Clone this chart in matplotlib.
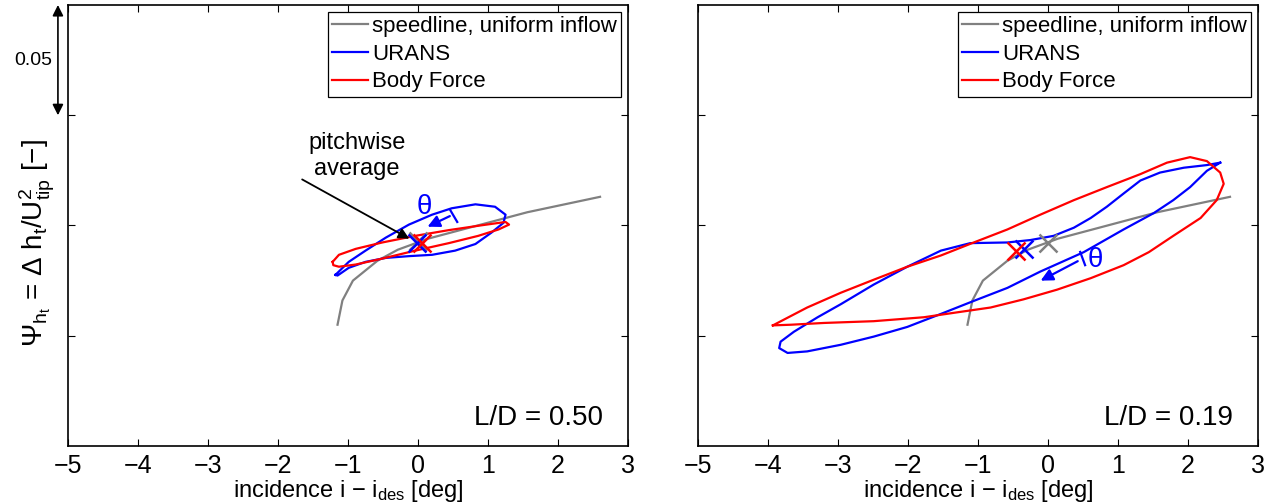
import matplotlib.pyplot as plt

# fonts: Arial-like text, upright mathtext
plt.rcParams['font.family'] = ['Liberation Sans', 'DejaVu Sans']
plt.rcParams['mathtext.default'] = 'regular'

# speedline at uniform inflow (same in both panels)
speed_i = [-1.15, -1.08, -0.93, -0.58, -0.29, 0.14, 0.85, 1.56, 2.60]
speed_psi = [0.305, 0.316, 0.325, 0.334, 0.339, 0.344, 0.350, 0.356, 0.363]

# L/D = 0.50
urans050_i = [-1.18, -0.99, -0.75, -0.46, -0.13, 0.20, 0.48, 0.82, 1.10, 1.25, 1.22,
              1.05, 0.82, 0.53, 0.20, -0.13, -0.46, -0.75, -0.99, -1.15, -1.18]
urans050_psi = [0.3276, 0.3335, 0.3386, 0.3445, 0.3504, 0.3549, 0.3578, 0.3596, 0.3585,
                0.3549, 0.3512, 0.3468, 0.3416, 0.3386, 0.3367, 0.3361, 0.3353, 0.3335,
                0.3308, 0.3273, 0.3276]
bf050_i = [-1.22, -1.13, -0.89, -0.51, -0.04, 0.44, 0.91, 1.25, 1.30, 1.15, 0.86, 0.44,
           -0.04, -0.51, -0.89, -1.13, -1.21, -1.22]
bf050_psi = [0.3335, 0.3367, 0.3394, 0.3423, 0.3453, 0.3479, 0.3501, 0.3516, 0.3504,
             0.3482, 0.3453, 0.3420, 0.3386, 0.3350, 0.3323, 0.3313, 0.3320, 0.3335]

# L/D = 0.19
urans019_i = [2.46, 2.27, 2.03, 1.79, 1.51, 1.08, 0.51, -0.11, -0.58, -1.06, -1.53, -2.01,
              -2.49, -2.96, -3.44, -3.72, -3.84, -3.82, -3.63, -3.29, -2.96, -2.49, -2.01,
              -1.53, -1.11, -0.58, -0.25, 0.08, 0.37, 0.61, 0.84, 1.08, 1.32, 1.60, 1.94,
              2.27, 2.46]
urans019_psi = [0.3785, 0.3748, 0.3674, 0.3615, 0.3556, 0.3482, 0.3379, 0.3291, 0.3217,
                0.3158, 0.3099, 0.3040, 0.2996, 0.2959, 0.2929, 0.2922, 0.2944, 0.2973,
                0.3018, 0.3084, 0.3143, 0.3232, 0.3313, 0.3386, 0.3420, 0.3423, 0.3434,
                0.3453, 0.3490, 0.3534, 0.3585, 0.3645, 0.3704, 0.3740, 0.3762, 0.3774,
                0.3785]
bf019_i = [-3.93, -3.44, -2.96, -2.49, -2.01, -1.53, -1.06, -0.58, -0.11, 0.37, 0.84, 1.32,
           1.70, 2.03, 2.27, 2.46, 2.51, 2.41, 2.18, 1.79, 1.44, 1.08, 0.61, 0.13, -0.35,
           -0.82, -1.30, -1.77, -2.49, -3.20, -3.67, -3.93]
bf019_psi = [0.3047, 0.3128, 0.3195, 0.3254, 0.3313, 0.3364, 0.3423, 0.3482, 0.3549,
             0.3615, 0.3674, 0.3733, 0.3785, 0.3810, 0.3792, 0.3740, 0.3689, 0.3615,
             0.3534, 0.3453, 0.3379, 0.3320, 0.3261, 0.3209, 0.3165, 0.3128, 0.3106,
             0.3084, 0.3066, 0.3058, 0.3050, 0.3047]

# pitchwise averages (i, psi)
avg_speed = [(0.0, 0.343), (0.0, 0.342)]
avg_urans = [(-0.02, 0.3422), (-0.34, 0.3393)]
avg_bf = [(0.05, 0.3420), (-0.46, 0.3384)]

ld_labels = ['L/D = 0.50', 'L/D = 0.19']

fig = plt.figure(figsize=(12.76, 5.04), dpi=100)
ax1 = fig.add_axes([0.0533, 0.1151, 0.4389, 0.875])
ax2 = fig.add_axes([0.5470, 0.1151, 0.4389, 0.875])

panels = [(ax1, urans050_i, urans050_psi, bf050_i, bf050_psi),
          (ax2, urans019_i, urans019_psi, bf019_i, bf019_psi)]

for k, (ax, ui, up, bi, bp) in enumerate(panels):
    ax.plot(speed_i, speed_psi, color='gray', lw=1.6, label='speedline, uniform inflow')
    ax.plot(ui, up, color='blue', lw=1.6, label='URANS')
    ax.plot(bi, bp, color='red', lw=1.6, label='Body Force')
    ax.plot(*avg_speed[k], marker='x', color='gray', ms=13, mew=1.8)
    ax.plot(*avg_urans[k], marker='x', color='blue', ms=13, mew=1.8)
    ax.plot(*avg_bf[k], marker='x', color='red', ms=13, mew=1.8)

    ax.set_xlim(-5, 3)
    ax.set_ylim(0.25, 0.45)
    ax.set_xticks(range(-5, 4))
    ax.set_xticklabels([str(v).replace('-', '\u2212') for v in range(-5, 4)])
    ax.set_yticks([0.30, 0.35, 0.40])
    ax.set_yticklabels([])
    ax.tick_params(direction='in', top=True, right=True, length=5, width=0.8,
                   labelsize=18, pad=6)
    for s in ax.spines.values():
        s.set_linewidth(1.2)
    ax.set_xlabel('incidence i \u2212 i$_{des}$ [deg]', fontsize=17, labelpad=0)

    leg = ax.legend(loc='upper right', fontsize=16, fancybox=False, edgecolor='k',
                    framealpha=1, handlelength=1.6, handletextpad=0.2,
                    labelspacing=0.3, borderpad=0.2, borderaxespad=0.3)
    leg.get_frame().set_linewidth(0.9)

    ax.text(0.955, 0.048, ld_labels[k], transform=ax.transAxes, ha='right',
            va='baseline', fontsize=20)

# theta markers (phase start and direction)
ax1.plot([0.46, 0.56], [0.357, 0.3516], color='blue', lw=1.6)
ax1.annotate('', xy=(0.10, 0.3489), xytext=(0.49, 0.3548),
             arrowprops=dict(arrowstyle='-|>', color='blue', lw=1.6, mutation_scale=18))
ax1.text(0.09, 0.3584, '\u03b8', color='blue', fontsize=20, ha='center', va='center')

ax2.plot([0.46, 0.53], [0.338, 0.332], color='blue', lw=1.6)
ax2.annotate('', xy=(-0.14, 0.3244), xytext=(0.46, 0.3344),
             arrowprops=dict(arrowstyle='-|>', color='blue', lw=1.6, mutation_scale=18))
ax2.text(0.67, 0.3344, '\u03b8', color='blue', fontsize=20, ha='center', va='center')

# pitchwise average annotation
ax1.annotate('', xy=(-0.09, 0.3434), xytext=(-1.69, 0.3715),
             arrowprops=dict(arrowstyle='-|>', color='k', lw=1.3, mutation_scale=16))
ax1.text(-0.87, 0.3815, 'pitchwise\naverage', ha='center', va='center', fontsize=17,
         linespacing=1.2)

# scale arrow for 0.05 and y label
tr = ax1.get_yaxis_transform()
ax1.annotate('', xy=(-0.018, 0.40), xytext=(-0.018, 0.45), xycoords=tr, textcoords=tr,
             annotation_clip=False,
             arrowprops=dict(arrowstyle='<|-|>', color='k', lw=1.2, mutation_scale=16,
                             shrinkA=0, shrinkB=0))
ax1.text(-0.062, 0.425, '0.05', transform=tr, ha='center', va='center', fontsize=14)
ax1.set_ylabel('$\\Psi_{h_t}$ = $\\Delta$ h$_t$/U$^2_{tip}$ [\u2212]', fontsize=20)
ax1.yaxis.set_label_coords(-0.02, 0.46)

plt.savefig('out.png', dpi=100)
